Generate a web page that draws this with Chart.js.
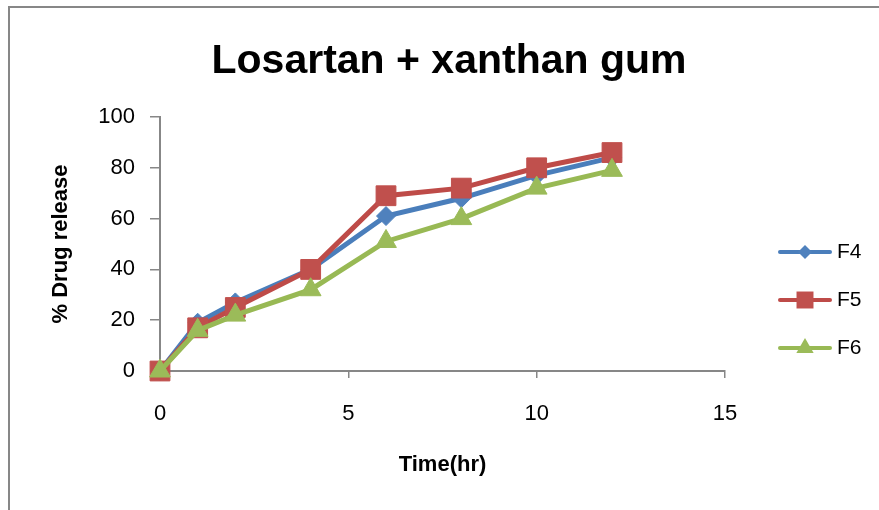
<!DOCTYPE html>
<html>
<head>
<meta charset="utf-8">
<script src="https://cdn.jsdelivr.net/npm/chart.js@4.4.1/dist/chart.umd.min.js"></script>
<style>
  html, body { margin: 0; padding: 0; background: #fff; overflow: hidden; }
  #wrap { position: relative; width: 879px; height: 510px; }
  #frame { position: absolute; left: 8px; top: 6px; width: 1000px; height: 1000px;
           border-left: 2px solid #878787; border-top: 2px solid #878787; }
  canvas { position: absolute; left: 0; top: 0; }
</style>
</head>
<body>
<div id="wrap">
  <div id="frame"></div>
  <canvas id="c" width="879" height="510"></canvas>
</div>
<script>
// Release time points (hours)
const timeHr = [0, 1, 2, 4, 6, 8, 10, 12];
// Cumulative % drug release per formulation
const releaseF4 = [0, 19, 27, 40, 61, 68, 77, 84];
const releaseF5 = [0, 17, 25, 40, 69, 72, 80, 86];
const releaseF6 = [0, 16, 22, 32, 51, 60, 72, 79];
const seriesNames = ['F4', 'F5', 'F6'];
const xTicks = [0, 5, 10, 15];
const yTicks = [0, 20, 40, 60, 80, 100];

const chartTitle = 'Losartan + xanthan gum';
const FONT = '"Liberation Sans", Arial, sans-serif';

function toPoints(vals) {
  return timeHr.map((t, i) => ({ x: t, y: vals[i] }));
}

const styles = [
  { line: '#4A7EBB', fill: '#4F81BD', point: 'rectRot', r: 9.5, lr: 7 },
  { line: '#BE4B48', fill: '#C0504D', point: 'rect', r: 14, lr: 12 },
  { line: '#98B954', fill: '#9BBB59', point: 'triangle', r: 12, lr: 10 }
];
const seriesValues = [releaseF4, releaseF5, releaseF6];

const datasets = seriesNames.map((name, i) => ({
  label: name,
  data: toPoints(seriesValues[i]),
  borderColor: styles[i].line,
  backgroundColor: styles[i].fill,
  borderWidth: 5,
  pointStyle: styles[i].point,
  pointRadius: styles[i].r,
  pointHoverRadius: styles[i].r,
  pointBackgroundColor: styles[i].fill,
  pointBorderColor: styles[i].fill,
  pointBorderWidth: 1,
  tension: 0,
  clip: false,
  order: 2 - i
}));

function drawMarker(ctx, style, r, x, y) {
  ctx.beginPath();
  if (style === 'rectRot') {
    ctx.moveTo(x, y - r); ctx.lineTo(x + r, y); ctx.lineTo(x, y + r); ctx.lineTo(x - r, y);
  } else if (style === 'rect') {
    const s = Math.SQRT1_2 * r;
    ctx.rect(x - s, y - s, 2 * s, 2 * s);
  } else {
    for (let k = 0; k < 3; k++) {
      const a = -Math.PI / 2 + k * 2 * Math.PI / 3;
      const px = x + Math.cos(a) * r, py = y + Math.sin(a) * r;
      if (k === 0) ctx.moveTo(px, py); else ctx.lineTo(px, py);
    }
  }
  ctx.closePath();
  ctx.fill();
}

// Title and side legend
const decorations = {
  id: 'decorations',
  afterDraw(chart) {
    const ctx = chart.ctx;
    ctx.save();
    ctx.fillStyle = '#000';
    ctx.font = 'bold 41px ' + FONT;
    ctx.textAlign = 'center';
    ctx.textBaseline = 'alphabetic';
    ctx.fillText(chartTitle, 449, 73);

    const rowY = [252, 300, 348];
    chart.data.datasets.forEach((ds, i) => {
      const y = rowY[i];
      ctx.strokeStyle = styles[i].line;
      ctx.lineWidth = 4;
      ctx.lineCap = 'round';
      ctx.beginPath();
      ctx.moveTo(780, y);
      ctx.lineTo(830, y);
      ctx.stroke();
      ctx.fillStyle = styles[i].fill;
      drawMarker(ctx, styles[i].point, styles[i].lr, 805, y);
      ctx.fillStyle = '#000';
      ctx.font = '21px ' + FONT;
      ctx.textAlign = 'left';
      ctx.textBaseline = 'middle';
      ctx.fillText(ds.label, 837, y);
    });
    ctx.restore();
  }
};

const axisGrey = '#878787';

new Chart(document.getElementById('c'), {
  type: 'line',
  data: { datasets },
  options: {
    responsive: false,
    animation: false,
    events: [],
    layout: { padding: { top: 117, right: 154, bottom: 0, left: 0 } },
    plugins: { legend: { display: false }, tooltip: { enabled: false }, title: { display: false } },
    scales: {
      x: {
        type: 'linear',
        min: 0, max: 15,
        afterBuildTicks(scale) { scale.ticks = xTicks.map(v => ({ value: v })); },
        afterFit(scale) { scale.height = 139; },
        grid: { display: true, drawOnChartArea: false, drawTicks: true, tickLength: 7, color: axisGrey, lineWidth: 1.5 },
        border: { display: true, color: axisGrey, width: 2 },
        ticks: { color: '#000', font: { family: FONT, size: 22 }, padding: 23, maxRotation: 0 },
        title: { display: true, text: 'Time(hr)', color: '#000',
                 font: { family: FONT, size: 22, weight: 'bold' }, padding: { top: 0, bottom: 32 } }
      },
      y: {
        min: 0, max: 100,
        afterBuildTicks(scale) { scale.ticks = yTicks.map(v => ({ value: v })); },
        afterFit(scale) { scale.width = 160; },
        grid: { display: true, drawOnChartArea: false, drawTicks: true, tickLength: 10, color: axisGrey, lineWidth: 1.5 },
        border: { display: true, color: axisGrey, width: 2 },
        ticks: { color: '#000', font: { family: FONT, size: 22 }, padding: 15 },
        title: { display: true, text: '% Drug release', color: '#000',
                 font: { family: FONT, size: 22, weight: 'bold' }, padding: { top: 48, bottom: 0 } }
      }
    }
  },
  plugins: [decorations]
});
</script>
</body>
</html>
